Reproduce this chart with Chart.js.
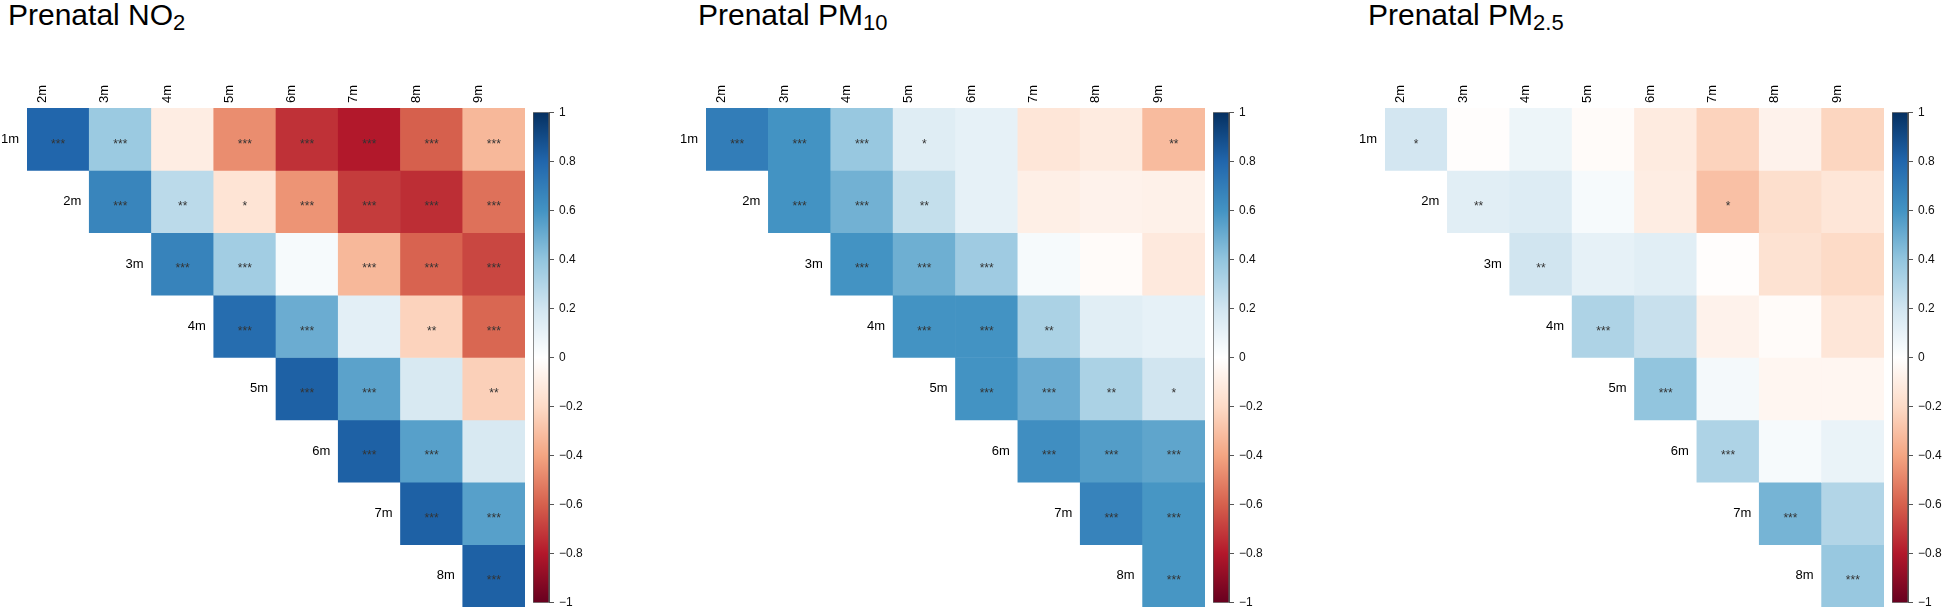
<!DOCTYPE html>
<html>
<head>
<meta charset="utf-8">
<script src="https://cdn.jsdelivr.net/npm/chart.js@4"></script>
<style>
  body { margin: 0; width: 1944px; height: 615px; background: #fff; overflow: hidden; position: relative; font-family: "Liberation Sans", Arial, sans-serif; }
  canvas { position: absolute; }
  .title { position: absolute; top: 0px; font-size: 30px; line-height: 30px; color: #000; white-space: nowrap; }
  .title sub { font-size: 22px; vertical-align: -5px; line-height: 0; }
</style>
</head>
<body>
<div class="title" style="left:8px">Prenatal NO<sub>2</sub></div>
<div class="title" style="left:698px">Prenatal PM<sub>10</sub></div>
<div class="title" style="left:1368px">Prenatal PM<sub>2.5</sub></div>

<canvas id="heatNo2" width="525" height="539" style="left:0px;top:68px"></canvas>
<canvas id="barNo2" width="60" height="515" style="left:533px;top:100px"></canvas>
<canvas id="heatPm10" width="526" height="539" style="left:679px;top:68px"></canvas>
<canvas id="barPm10" width="60" height="515" style="left:1213px;top:100px"></canvas>
<canvas id="heatPm25" width="526" height="539" style="left:1358px;top:68px"></canvas>
<canvas id="barPm25" width="60" height="515" style="left:1892px;top:100px"></canvas>

<script>
// months
const rowLabels = ["1m", "2m", "3m", "4m", "5m", "6m", "7m", "8m"];
const colLabels = ["2m", "3m", "4m", "5m", "6m", "7m", "8m", "9m"];
const cbTicks = [-1, -0.8, -0.6, -0.4, -0.2, 0, 0.2, 0.4, 0.6, 0.8, 1];

// row i holds the values for columns i..7 (upper triangle)
const no2Corr = [
    [0.80, 0.37, -0.10, -0.47, -0.73, -0.80, -0.60, -0.33],
    [0.66, 0.27, -0.15, -0.45, -0.70, -0.74, -0.55],
    [0.67, 0.35, 0.04, -0.33, -0.59, -0.67],
    [0.77, 0.50, 0.12, -0.23, -0.58],
    [0.82, 0.54, 0.17, -0.24],
    [0.82, 0.55, 0.17],
    [0.82, 0.55],
    [0.82]
];
const no2Stars = [
    ["***", "***", "", "***", "***", "***", "***", "***"],
    ["***", "**", "*", "***", "***", "***", "***"],
    ["***", "***", "", "***", "***", "***"],
    ["***", "***", "", "**", "***"],
    ["***", "***", "", "**"],
    ["***", "***", ""],
    ["***", "***"],
    ["***"]
];

const pm10Corr = [
    [0.70, 0.60, 0.38, 0.14, 0.11, -0.14, -0.11, -0.32],
    [0.60, 0.48, 0.24, 0.11, -0.09, -0.07, -0.08],
    [0.60, 0.49, 0.36, 0.04, -0.02, -0.12],
    [0.60, 0.60, 0.32, 0.13, 0.11],
    [0.60, 0.50, 0.32, 0.20],
    [0.62, 0.56, 0.53],
    [0.67, 0.59],
    [0.59]
];
const pm10Stars = [
    ["***", "***", "***", "*", "", "", "", "**"],
    ["***", "***", "**", "", "", "", ""],
    ["***", "***", "***", "", "", ""],
    ["***", "***", "**", "", ""],
    ["***", "***", "**", "*"],
    ["***", "***", "***"],
    ["***", "***"],
    ["***"]
];

const pm25Corr = [
    [0.19, -0.01, 0.08, -0.02, -0.11, -0.23, -0.07, -0.22],
    [0.13, 0.15, 0.04, -0.10, -0.30, -0.18, -0.14],
    [0.20, 0.11, 0.13, -0.01, -0.16, -0.20],
    [0.31, 0.23, -0.07, -0.02, -0.14],
    [0.40, 0.05, -0.05, -0.05],
    [0.31, 0.04, 0.09],
    [0.47, 0.30],
    [0.38]
];
const pm25Stars = [
    ["*", "", "", "", "", "", "", ""],
    ["**", "", "", "", "*", "", ""],
    ["**", "", "", "", "", ""],
    ["***", "", "", "", ""],
    ["***", "", "", ""],
    ["***", "", ""],
    ["***", ""],
    ["***"]
];

// RdBu palette, -1 .. 1
const rdbu = ["#67001F", "#B2182B", "#D6604D", "#F4A582", "#FDDBC7", "#FFFFFF",
              "#D1E5F0", "#92C5DE", "#4393C3", "#2166AC", "#053061"];

function hexToRgb(h) {
    return [parseInt(h.slice(1, 3), 16), parseInt(h.slice(3, 5), 16), parseInt(h.slice(5, 7), 16)];
}

function corrColor(v) {
    let t = (v + 1) / 2 * 10;
    let i = Math.min(9, Math.max(0, Math.floor(t)));
    let f = t - i;
    let a = hexToRgb(rdbu[i]), b = hexToRgb(rdbu[i + 1]);
    let c = a.map((x, k) => Math.round(x + (b[k] - x) * f));
    return "rgb(" + c.join(",") + ")";
}

const baseFont = "'Liberation Sans', Arial, sans-serif";

// stars in the cells and row labels next to the diagonal
const cellText = {
    id: "cellText",
    afterDatasetsDraw(chart, args, opts) {
        const ctx = chart.ctx;
        ctx.save();
        chart.data.datasets.forEach((ds, i) => {
            const meta = chart.getDatasetMeta(i);
            meta.data.forEach((bar, j) => {
                if (j < i) return;
                const s = opts.stars[i][j - i];
                const cy = (bar.y + bar.base) / 2;
                if (s) {
                    ctx.fillStyle = "#333";
                    ctx.font = "12px " + baseFont;
                    ctx.textAlign = "center";
                    ctx.textBaseline = "middle";
                    ctx.fillText(s, bar.x, cy + 5);
                }
                if (j === i) {
                    ctx.fillStyle = "#000";
                    ctx.font = "13px " + baseFont;
                    ctx.textAlign = "right";
                    ctx.textBaseline = "middle";
                    ctx.fillText(rowLabels[i], bar.x - bar.width / 2 - 8, cy);
                }
            });
        });
        ctx.restore();
    }
};

function makeHeatmap(id, corr, stars) {
    const datasets = rowLabels.map((r, i) => ({
        label: r,
        data: colLabels.map((c, j) => (j >= i ? [i, i + 1] : null)),
        backgroundColor: ctx => {
            const j = ctx.dataIndex - ctx.datasetIndex;
            return j >= 0 ? corrColor(corr[ctx.datasetIndex][j]) : "transparent";
        },
        borderWidth: 0,
        barPercentage: 1,
        categoryPercentage: 1,
        grouped: false
    }));
    return new Chart(document.getElementById(id), {
        type: "bar",
        data: { labels: colLabels, datasets: datasets },
        options: {
            responsive: false,
            animation: false,
            layout: { padding: { left: 27, right: 0, top: 0, bottom: 0 } },
            plugins: { legend: { display: false }, tooltip: { enabled: false }, cellText: { stars: stars } },
            scales: {
                x: {
                    position: "top",
                    grid: { display: false, drawTicks: false },
                    border: { display: false },
                    afterFit: s => { s.height = 40; },
                    ticks: {
                        minRotation: 90,
                        maxRotation: 90,
                        padding: 5,
                        color: "#000",
                        font: { family: baseFont, size: 13 }
                    }
                },
                y: { display: false, min: 0, max: 8, reverse: true }
            }
        },
        plugins: [cellText]
    });
}

function makeColorbar(id) {
    return new Chart(document.getElementById(id), {
        type: "bar",
        data: {
            labels: [""],
            datasets: [{
                data: [[-1, 1]],
                barPercentage: 1,
                categoryPercentage: 1,
                borderWidth: 1,
                borderColor: "#555",
                borderSkipped: false,
                backgroundColor: ctx => {
                    const area = ctx.chart.chartArea;
                    if (!area) return "#fff";
                    const g = ctx.chart.ctx.createLinearGradient(0, area.bottom, 0, area.top);
                    rdbu.forEach((c, k) => g.addColorStop(k / 10, c));
                    return g;
                }
            }]
        },
        options: {
            responsive: false,
            animation: false,
            layout: { padding: { left: 0, right: 0, top: 8, bottom: 8 } },
            plugins: { legend: { display: false }, tooltip: { enabled: false } },
            scales: {
                x: { display: false },
                y: {
                    position: "right",
                    min: -1,
                    max: 1,
                    afterBuildTicks: s => { s.ticks = cbTicks.map(v => ({ value: v })); },
                    afterFit: s => { s.width = 44; },
                    grid: { drawOnChartArea: false, drawTicks: true, tickLength: 5, color: "#555" },
                    border: { display: true, color: "#555" },
                    ticks: {
                        padding: 5,
                        color: "#111",
                        font: { family: baseFont, size: 12 },
                        callback: v => {
                            const r = Math.round(v * 10) / 10;
                            return (r < 0 ? "\u2212" : "") + String(Math.abs(r));
                        }
                    }
                }
            }
        }
    });
}

makeHeatmap("heatNo2", no2Corr, no2Stars);
makeColorbar("barNo2");
makeHeatmap("heatPm10", pm10Corr, pm10Stars);
makeColorbar("barPm10");
makeHeatmap("heatPm25", pm25Corr, pm25Stars);
makeColorbar("barPm25");
</script>
</body>
</html>
